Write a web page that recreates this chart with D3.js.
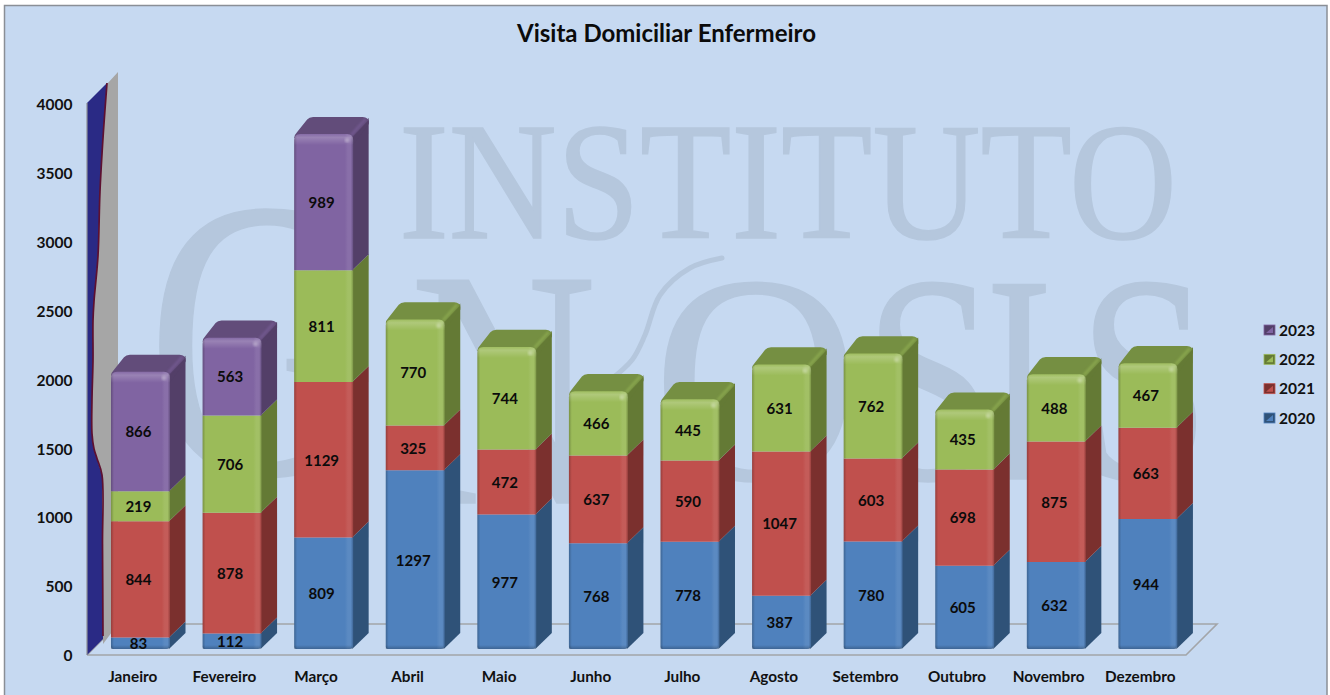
<!DOCTYPE html>
<html><head><meta charset="utf-8">
<script src="https://cdn.jsdelivr.net/npm/d3@7"></script>
<style>html,body{margin:0;padding:0;background:#fff;overflow:hidden}svg{display:block}</style>
</head><body><svg id="c" width="1330" height="695"></svg>
<script>
const months = ["Janeiro","Fevereiro","Março","Abril","Maio","Junho","Julho","Agosto","Setembro","Outubro","Novembro","Dezembro"];
const seriesNames = ["2020","2021","2022","2023"];
const v2020 = [83,112,809,1297,977,768,778,387,780,605,632,944];
const v2021 = [844,878,1129,325,472,637,590,1047,603,698,875,663];
const v2022 = [219,706,811,770,744,466,445,631,762,435,488,467];
const v2023 = [866,563,989,0,0,0,0,0,0,0,0,0];
const yTicks = [0,500,1000,1500,2000,2500,3000,3500,4000];
const chartTitle = "Visita Domiciliar Enfermeiro";
const frontColors = ["#4F81BD","#C0504D","#9BBB59","#8064A2"];
const sideColors  = ["#2F5278","#7B302E","#647A35","#533F68"];
const topColors   = ["#3B6391","#94403D","#758F42","#624C7A"];
const wallRidgeValues = [4000,3800,3360,2890,2560,2420,2130,1850,1600,1490,1420,1300,800,130];
const wallRidgeDepth  = [20,16.5,13,11,7,6,6,5,5,7,10,15,15.5,16];

const svg = d3.select("#c");
const defs = svg.append("defs");
const FF = "Lato, 'Open Sans', sans-serif";
const FS = "'Liberation Serif', serif";
const DEPTH = 16, BAR_LIFT = 5, FLOOR = 31;

const x = d3.scaleBand().domain(months).range([87,1186]).paddingInner(0).paddingOuter(0);
const y = d3.scaleLinear().domain([0,4000]).range([654,103]);
const BW = 59;
const rows = months.map((m,i)=>({month:m,"2020":v2020[i],"2021":v2021[i],"2022":v2022[i],"2023":v2023[i]}));
const stacked = d3.stack().keys(seriesNames)(rows);

/* background & frame */
svg.append("rect").attr("x",4.5).attr("y",5.5).attr("width",1322.5).attr("height",700)
  .attr("fill","#C6D9F1").attr("stroke","#8A8F96").attr("stroke-width",1.5);

/* watermark */
const wm = svg.append("g").attr("fill","#B5C7DD").attr("stroke","#B5C7DD").attr("stroke-width",1.6).attr("font-family",FS);
wm.append("text").attr("x",399).attr("y",238).attr("font-size",168)
  .attr("textLength",778).attr("lengthAdjust","spacingAndGlyphs").text("INSTITUTO");
const wmLetters = [["G",147,474,400,.78],["N",410,503,340,.76],["O",653,479,297,.96],["S",864,479,297,.8],["I",986,479,297,.67],["S",1078,479,297,.8]];
wm.selectAll("text.l").data(wmLetters).join("text").attr("class","l")
  .attr("transform",d=>`translate(${d[1]},${d[2]}) scale(${d[4]},1)`)
  .attr("font-size",d=>d[3]).text(d=>d[0]);
wm.append("path").attr("fill","none").attr("stroke-width",5).attr("stroke-linecap","round")
  .attr("d",d3.line().curve(d3.curveCatmullRom)([[722,258],[690,268],[660,295],[645,335],[632,360],[610,380]]));

/* floor */
const x0 = 87, x1 = 1186, yf = y(0)+1;
svg.append("path").attr("fill","none").attr("stroke","#A3A5A8").attr("stroke-width",1.6)
  .attr("d",d3.line()([[x0,yf],[x1,yf],[x1+FLOOR,yf-FLOOR],[x0+FLOOR,yf-FLOOR],[x0,yf]]));

/* wall */
const ridge = wallRidgeValues.map((v,i)=>[x0+wallRidgeDepth[i], y(v)-wallRidgeDepth[i]*(v===4000?1:0)]);
const line = d3.line();
svg.append("path").attr("fill","#A6A6A6").attr("d",line([[x0+20,y(4000)-19],[x0+FLOOR,y(4000)-31],[x0+FLOOR,yf-FLOOR],...ridge.slice().reverse().slice(0,1).map(p=>[p[0],p[1]+8]),...ridge.slice().reverse()]));
svg.append("path").attr("fill","#2A2A85").attr("d",line([[x0,y(4000)],...ridge,[x0+16,yf-16],[x0,yf]]));
svg.append("path").attr("fill","none").attr("stroke","#5E1030").attr("stroke-width",1.7)
  .attr("d",d3.line().curve(d3.curveCatmullRom)(ridge));
svg.append("line").attr("x1",x0).attr("x2",x0).attr("y1",y(4000)).attr("y2",yf).attr("stroke","#8E9096").attr("stroke-width",1.2);

/* gradients */
function shade(c,k){const q=d3.rgb(c);return k<1?d3.rgb(q.r*k,q.g*k,q.b*k).formatHex():d3.interpolateRgb(c,"#fff")(k-1);}
frontColors.forEach((c,i)=>{
  const g=defs.append("linearGradient").attr("id","f"+i);
  [[0,shade(c,.78)],[.05,c],[.86,c],[.91,shade(c,1.07)],[.96,shade(c,1.07)],[1,shade(c,.8)]]
    .forEach(s=>g.append("stop").attr("offset",s[0]).attr("stop-color",s[1]));
});
const tb=defs.append("linearGradient").attr("id","topBevel").attr("x1",0).attr("x2",0).attr("y1",0).attr("y2",1);
tb.append("stop").attr("offset",0).attr("stop-color","#fff").attr("stop-opacity",.05);
tb.append("stop").attr("offset",.3).attr("stop-color","#fff").attr("stop-opacity",.2);
tb.append("stop").attr("offset",1).attr("stop-color","#fff").attr("stop-opacity",0);
const bb=defs.append("linearGradient").attr("id","botBevel").attr("x1",0).attr("x2",0).attr("y1",0).attr("y2",1);
bb.append("stop").attr("offset",0).attr("stop-color","#000").attr("stop-opacity",0);
bb.append("stop").attr("offset",1).attr("stop-color","#000").attr("stop-opacity",.22);
defs.append("filter").attr("id","blur").append("feGaussianBlur").attr("stdDeviation",1);

/* bars */
const Y = v => y(v)-BAR_LIFT;
const barX = m => x(m)+x.bandwidth()/2-BW/2+7.7;
const bars = svg.append("g");
months.forEach((m,mi)=>{
  const g=bars.append("g");
  const L=barX(m), R=L+BW;
  const segs=stacked.map((s,si)=>({si,v0:s[mi][0],v1:s[mi][1],val:s[mi].data[seriesNames[si]]})).filter(d=>d.val>0);
  const last=segs[segs.length-1];
  const T=Y(last.v1);
  /* side faces */
  segs.forEach(d=>{
    const a=Y(d.v1),b=Y(d.v0);
    g.append("path").attr("fill",sideColors[d.si])
      .attr("d",line([[R-1,a],[R+DEPTH-.5,a-DEPTH],[R+DEPTH-.5,b-DEPTH],[R-1,b]])+"Z");
  });
  /* top face */
  const r=6, tb=T-DEPTH-1.2, Rb=R+DEPTH-.5;
  g.append("path").attr("fill",topColors[last.si])
    .attr("d",`M${L},${T+4}Q${L},${T+1} ${L+3},${T-2}L${L+DEPTH-3},${tb+2.5}Q${L+DEPTH-1},${tb} ${L+DEPTH+3},${tb}`+
      `L${Rb-r},${tb}Q${Rb},${tb} ${Rb},${tb+r}L${R+2},${T+4}Z`);
  g.append("path").attr("fill",sideColors[last.si])
    .attr("d",line([[R,T+2],[Rb,tb+3],[Rb,tb+7],[R-1,T+12]])+"Z");
  g.append("line").attr("x1",R-2).attr("y1",T+1).attr("x2",Rb-3).attr("y2",tb+2)
    .attr("stroke",frontColors[last.si]).attr("stroke-width",2.5).attr("opacity",.55).attr("filter","url(#blur)");
  /* front faces */
  segs.forEach(d=>{
    const a=Y(d.v1),b=Y(d.v0),isTop=d===last,isBot=d.v0===0;
    const rt=isTop?6:0, rb=isBot?4:0;
    const p=`M${L},${a+rt}`+(rt?`Q${L},${a} ${L+rt},${a}L${R-rt},${a}Q${R},${a} ${R},${a+rt}`:`L${R},${a}`)+
      `L${R},${b-rb}`+(rb?`Q${R},${b} ${R-rb},${b}L${L+2},${b}Q${L},${b} ${L},${b-2}`:`L${L},${b}`)+"Z";
    g.append("path").attr("fill",`url(#f${d.si})`).attr("d",p);
    if(isTop){
      g.append("path").attr("fill","url(#topBevel)").attr("d",`M${L},${a+rt}Q${L},${a} ${L+rt},${a}L${R-rt},${a}Q${R},${a} ${R},${a+rt}L${R},${a+11}L${L},${a+11}Z`);
      g.append("circle").attr("cx",R-6).attr("cy",a+6).attr("r",2.4).attr("fill",d3.interpolateRgb(frontColors[d.si],"#fff")(.4)).attr("filter","url(#blur)");
    }
    if(isBot){
      g.append("rect").attr("x",L).attr("width",BW-1).attr("y",b-4).attr("height",4).attr("fill","url(#botBevel)");
    }
  });
  /* labels */
  g.selectAll("text").data(segs).join("text")
    .attr("x",L+BW/2-2).attr("y",d=>(Y(d.v0)+Y(d.v1))/2+.5).attr("dy","0.36em")
    .attr("text-anchor","middle").attr("font-family",FF).attr("font-weight",700).attr("font-size",15)
    .attr("fill","#0b0b0b").text(d=>d.val);
});

/* axes */
const axL=svg.append("g").attr("transform","translate(72.5,1.7)").call(d3.axisLeft(y).tickValues(yTicks).tickSize(0).tickPadding(0).tickFormat(d3.format("d")));
axL.select(".domain").remove();
axL.selectAll("text").attr("font-family",FF).attr("font-weight",700).attr("font-size",15.5).attr("fill","#111");
const axB=svg.append("g").attr("transform","translate(0,671.5)").call(d3.axisBottom(x).tickSize(0).tickPadding(0));
axB.select(".domain").remove();
axB.selectAll("text").attr("font-family",FF).attr("font-weight",700).attr("font-size",15.3).attr("fill","#111");

/* title */
svg.append("text").attr("x",666.5).attr("y",42).attr("text-anchor","middle").attr("font-family",FF)
  .attr("font-weight",700).attr("font-size",24).attr("fill","#0b0b0b").text(chartTitle);

/* legend */
const lgY=d3.scalePoint().domain(seriesNames.slice().reverse()).range([330,418]);
const lg=svg.append("g").selectAll("g").data(seriesNames).join("g").attr("transform",d=>`translate(1264,${lgY(d)})`);
lg.append("rect").attr("x",0).attr("y",-5).attr("width",11).attr("height",10).attr("fill",(d,i)=>sideColors[i]).attr("stroke",(d,i)=>frontColors[i]).attr("stroke-width",.8);
lg.append("path").attr("fill",(d,i)=>frontColors[i]).attr("d",line([[2,3],[9,3],[9,-3]])+"Z");
lg.append("text").attr("x",15).attr("dy","0.36em").attr("font-family",FF).attr("font-weight",700).attr("font-size",15.5).attr("fill","#111").text(d=>d);
</script></body></html>
